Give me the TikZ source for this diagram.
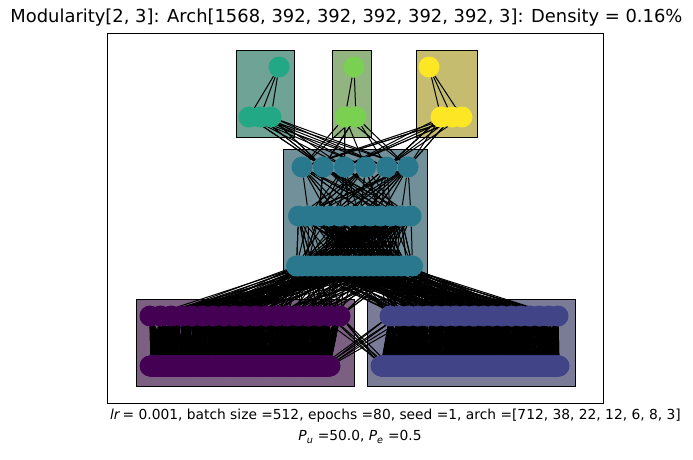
\documentclass[tikz,border=0pt]{standalone}
\usepackage{xcolor}
\usepackage{fontspec}
\setmainfont{DejaVu Sans}
\usepackage{tikz}
\pgfdeclarelayer{boxes}
\pgfdeclarelayer{edges}
\pgfsetlayers{boxes,edges,main}

\definecolor{vPurple}{HTML}{440154}
\definecolor{vIndigo}{HTML}{414487}
\definecolor{vTeal}{HTML}{2A788E}
\definecolor{vGreen}{HTML}{22A884}
\definecolor{vLime}{HTML}{7AD151}
\definecolor{vYellow}{HTML}{FDE725}
\definecolor{boxGray}{RGB}{160,160,160}

\begin{document}
\begin{tikzpicture}[
    x=1pt, y=-1pt,
    neuron/.style={circle, fill=#1, inner sep=0pt, minimum size=21pt},
    module/.style={draw, line width=1pt, fill=#1!40!boxGray},
    wire/.style={line width=1pt, black},
    xlabeltext/.style={font=\fontsize{13.8}{16}\selectfont}
]
    \useasboundingbox (0,0) rectangle (693,459);
    \pgfmathsetseed{7}

    % ── Title and axis labels ──
    \node[font=\fontsize{17.9}{21}\selectfont] (title) at (346.5,18)
        {Modularity[2, 3]: Arch[1568, 392, 392, 392, 392, 392, 3]: Density = 0.16\%};
    \node[xlabeltext] (info)  at (395.5,416)
        {\textit{lr}\,=\ 0.001, batch size =512, epochs =80, seed =1, arch =[712, 38, 22, 12, 6, 8, 3]};
    \node[xlabeltext] (probs) at (360,437)
        {\textit{P}\textsubscript{\textit{u}} =50.0, \textit{P}\textsubscript{\textit{e}} =0.5};

    % ── Axes frame and module boxes ──
    \begin{pgfonlayer}{boxes}
    \draw[line width=0.8pt] (107,33) rectangle (603,403);
    \draw[module=vPurple] (136,299) rectangle (354,386);
    \draw[module=vIndigo] (367,299) rectangle (575,386);
    \draw[module=vTeal]   (283,149) rectangle (427,273);
    \draw[module=vGreen]  (236,50)  rectangle (294,137);
    \draw[module=vLime]   (332,50)  rectangle (371,137);
    \draw[module=vYellow] (416,50)  rectangle (477,137);
    \end{pgfonlayer}

    % ── Input layer: 712 = 2 x 356 ──
    \foreach \i in {0,...,355}
        \node[neuron=vPurple] (in\i) at ({150+\i/355*180},366) {};
    \foreach \i in {0,...,355}{
        \pgfmathtruncatemacro\k{\i+356}
        \node[neuron=vIndigo] (in\k) at ({381+\i/355*178},366) {};
    }

    % ── Hidden layer A: 38 = 2 x 19 ──
    \foreach \j in {0,...,18}
        \node[neuron=vPurple] (hA\j) at ({150+\j*190/18},316) {};
    \foreach \j in {0,...,18}{
        \pgfmathtruncatemacro\k{\j+19}
        \node[neuron=vIndigo] (hA\k) at ({390+\j*168/18},316) {};
    }

    % ── Hidden layers B, C, D (middle module) ──
    \foreach \j in {0,...,21}
        \node[neuron=vTeal] (hB\j) at ({296.5+\j*116/21},266) {};
    \foreach \j in {0,...,11}
        \node[neuron=vTeal] (hC\j) at ({298.5+\j*112.5/11},216) {};
    \foreach \j in {0,...,5}
        \node[neuron=vTeal] (hD\j) at ({302+\j*21.2},167) {};

    % ── Hidden layer E and outputs (top modules) ──
    \node[neuron=vGreen]  (hE0) at (249,117) {};
    \node[neuron=vGreen]  (hE1) at (260,117) {};
    \node[neuron=vGreen]  (hE2) at (271,117) {};
    \node[neuron=vLime]   (hE3) at (345,117) {};
    \node[neuron=vLime]   (hE4) at (356,117) {};
    \node[neuron=vYellow] (hE5) at (441,117) {};
    \node[neuron=vYellow] (hE6) at (452,117) {};
    \node[neuron=vYellow] (hE7) at (462,117) {};
    \node[neuron=vGreen]  (out0) at (279,67) {};
    \node[neuron=vLime]   (out1) at (354,67) {};
    \node[neuron=vYellow] (out2) at (429,67) {};

    \begin{pgfonlayer}{edges}
    % ── input -> A, inside each module ──
    \foreach \i in {0,...,355}{
        \foreach \r in {1,2,3}{
            \pgfmathrandominteger{\rnd}{0}{4}
            \pgfmathtruncatemacro\tgt{max(0,min(18,round(\i*18/355)+\rnd-2))}
            \draw[wire] (in\i) -- (hA\tgt);
            \pgfmathrandominteger{\rnd}{0}{4}
            \pgfmathtruncatemacro\src{\i+356}
            \pgfmathtruncatemacro\tgt{19+max(0,min(18,round(\i*18/355)+\rnd-2))}
            \draw[wire] (in\src) -- (hA\tgt);
        }
    }
    % ── input -> A, across modules ──
    \foreach \a/\b in {338/19, 343/20, 347/19, 351/21, 353/20, 355/22,
                       356/18, 359/17, 362/18, 366/16, 371/17, 375/18}
        \draw[wire] (in\a) -- (hA\b);

    % ── A -> B ──
    \foreach \j in {0,...,37}{
        \foreach \r in {1,...,8}{
            \pgfmathrandominteger{\tgt}{0}{21}
            \draw[wire] (hA\j) -- (hB\tgt);
        }
    }
    % ── B -> C ──
    \foreach \j in {0,...,21}{
        \foreach \r in {1,...,9}{
            \pgfmathrandominteger{\tgt}{0}{11}
            \draw[wire] (hB\j) -- (hC\tgt);
        }
    }
    % ── C -> D ──
    \foreach \j in {0,...,11}{
        \foreach \r in {1,...,5}{
            \pgfmathrandominteger{\tgt}{0}{5}
            \draw[wire] (hC\j) -- (hD\tgt);
        }
    }
    % ── D -> E ──
    \foreach \j in {0,...,7}{
        \foreach \r in {1,...,5}{
            \pgfmathrandominteger{\tgt}{0}{5}
            \draw[wire] (hD\tgt) -- (hE\j);
        }
    }
    % ── E -> outputs, inside each module ──
    \foreach \a/\b in {0/0, 1/0, 2/0, 3/1, 4/1, 5/2, 6/2, 7/2}
        \draw[wire] (hE\a) -- (out\b);
    \end{pgfonlayer}
\end{tikzpicture}
\end{document}
